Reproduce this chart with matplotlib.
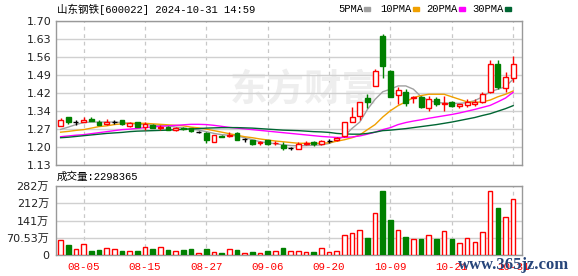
import matplotlib
matplotlib.use("Agg")
import matplotlib.pyplot as plt
from matplotlib.patches import Rectangle
import numpy as np

# ---- data ----
title = "山东钢铁[600022] 2024-10-31 14:59"
dates = ["07-31", "08-01", "08-02", "08-05", "08-06", "08-07", "08-08", "08-09",
         "08-12", "08-13", "08-14", "08-15", "08-16", "08-19", "08-20", "08-21",
         "08-22", "08-23", "08-26", "08-27", "08-28", "08-29", "08-30", "09-02",
         "09-03", "09-04", "09-05", "09-06", "09-09", "09-10", "09-11", "09-12",
         "09-13", "09-18", "09-19", "09-20", "09-23", "09-24", "09-25", "09-26",
         "09-27", "09-30", "10-08", "10-09", "10-10", "10-11", "10-14", "10-15",
         "10-16", "10-17", "10-18", "10-21", "10-22", "10-23", "10-24", "10-25",
         "10-28", "10-29", "10-30", "10-31"]

opens = [1.284, 1.319, 1.299, 1.301, 1.312, 1.299, 1.291, 1.301, 1.308, 1.286,
         1.299, 1.282, 1.288, 1.278, 1.279, 1.270, 1.278, 1.276, 1.260, 1.258,
         1.222, 1.246, 1.245, 1.258, 1.232, 1.230, 1.217, 1.229, 1.216, 1.209,
         1.198, 1.193, 1.215, 1.222, 1.215, 1.225, 1.229, 1.245, 1.301, 1.323,
         1.394, 1.441, 1.640, 1.502, 1.408, 1.418, 1.394, 1.400, 1.355, 1.390,
         1.372, 1.378, 1.362, 1.368, 1.370, 1.378, 1.420, 1.529, 1.434, 1.473]
highs = [1.317, 1.320, 1.308, 1.319, 1.321, 1.310, 1.312, 1.310, 1.310, 1.300,
         1.300, 1.300, 1.292, 1.290, 1.284, 1.280, 1.280, 1.278, 1.265, 1.262,
         1.250, 1.248, 1.262, 1.260, 1.236, 1.230, 1.225, 1.230, 1.225, 1.220,
         1.200, 1.222, 1.225, 1.224, 1.230, 1.232, 1.240, 1.300, 1.358, 1.380,
         1.410, 1.510, 1.650, 1.505, 1.440, 1.430, 1.405, 1.405, 1.405, 1.400,
         1.405, 1.385, 1.372, 1.390, 1.390, 1.420, 1.545, 1.545, 1.500, 1.560]
lows = [1.284, 1.291, 1.290, 1.300, 1.303, 1.288, 1.290, 1.292, 1.290, 1.280,
        1.280, 1.270, 1.275, 1.270, 1.268, 1.266, 1.270, 1.262, 1.255, 1.218,
        1.220, 1.240, 1.240, 1.228, 1.222, 1.210, 1.210, 1.210, 1.208, 1.188,
        1.188, 1.193, 1.210, 1.205, 1.210, 1.218, 1.225, 1.240, 1.300, 1.310,
        1.357, 1.441, 1.473, 1.398, 1.371, 1.365, 1.375, 1.355, 1.345, 1.365,
        1.345, 1.358, 1.355, 1.360, 1.365, 1.375, 1.415, 1.430, 1.420, 1.460]
closes = [1.308, 1.301, 1.299, 1.308, 1.305, 1.288, 1.301, 1.301, 1.292, 1.295,
          1.282, 1.291, 1.278, 1.281, 1.270, 1.275, 1.272, 1.265, 1.260, 1.228,
          1.249, 1.242, 1.250, 1.230, 1.232, 1.212, 1.220, 1.212, 1.219, 1.198,
          1.198, 1.212, 1.219, 1.212, 1.225, 1.225, 1.237, 1.300, 1.319, 1.378,
          1.380, 1.502, 1.522, 1.400, 1.425, 1.375, 1.400, 1.360, 1.390, 1.370,
          1.375, 1.362, 1.370, 1.378, 1.380, 1.410, 1.529, 1.440, 1.477, 1.529]

ma5 = [1.271, 1.280, 1.290, 1.298, 1.300, 1.300, 1.300, 1.300, 1.298, 1.295,
       1.292, 1.290, 1.288, 1.287, 1.285, 1.280, 1.276, 1.272, 1.268, 1.262,
       1.255, 1.250, 1.248, 1.245, 1.238, 1.230, 1.222, 1.218, 1.214, 1.210,
       1.207, 1.206, 1.207, 1.208, 1.210, 1.215, 1.228, 1.245, 1.275, 1.300,
       1.350, 1.390, 1.420, 1.430, 1.443, 1.443, 1.430, 1.400, 1.385, 1.378,
       1.375, 1.374, 1.374, 1.377, 1.385, 1.400, 1.420, 1.430, 1.440, 1.470]
ma10 = [1.260, 1.263, 1.267, 1.270, 1.276, 1.282, 1.285, 1.290, 1.293, 1.295,
        1.295, 1.295, 1.293, 1.291, 1.289, 1.287, 1.285, 1.280, 1.277, 1.272,
        1.266, 1.260, 1.254, 1.248, 1.242, 1.238, 1.233, 1.229, 1.225, 1.222,
        1.219, 1.216, 1.216, 1.216, 1.216, 1.218, 1.224, 1.230, 1.238, 1.249,
        1.270, 1.290, 1.320, 1.345, 1.365, 1.380, 1.397, 1.405, 1.410, 1.410,
        1.410, 1.400, 1.390, 1.380, 1.378, 1.380, 1.387, 1.400, 1.410, 1.423]
ma20 = [1.242, 1.245, 1.248, 1.250, 1.254, 1.258, 1.262, 1.266, 1.270, 1.272,
        1.275, 1.278, 1.281, 1.283, 1.285, 1.287, 1.289, 1.291, 1.291, 1.290,
        1.287, 1.283, 1.279, 1.276, 1.273, 1.270, 1.267, 1.264, 1.261, 1.258,
        1.255, 1.252, 1.249, 1.246, 1.243, 1.241, 1.239, 1.239, 1.241, 1.245,
        1.252, 1.260, 1.270, 1.278, 1.290, 1.298, 1.304, 1.309, 1.315, 1.320,
        1.325, 1.330, 1.336, 1.343, 1.350, 1.358, 1.366, 1.380, 1.395, 1.418]
ma30 = [1.238, 1.240, 1.243, 1.246, 1.249, 1.252, 1.255, 1.257, 1.259, 1.262,
        1.264, 1.265, 1.266, 1.267, 1.268, 1.270, 1.271, 1.273, 1.274, 1.276,
        1.277, 1.278, 1.278, 1.278, 1.277, 1.276, 1.274, 1.272, 1.270, 1.268,
        1.267, 1.266, 1.264, 1.262, 1.261, 1.259, 1.255, 1.253, 1.252, 1.252,
        1.255, 1.260, 1.266, 1.268, 1.271, 1.274, 1.278, 1.282, 1.286, 1.290,
        1.295, 1.300, 1.306, 1.312, 1.318, 1.326, 1.333, 1.343, 1.353, 1.365]

# volume in 万 (10k shares)
volumes = [61.0, 41.0, 24.5, 45.0, 17.7, 20.4, 27.0, 24.5, 17.7, 16.4,
           17.7, 31.3, 24.5, 31.3, 20.4, 16.4, 20.4, 24.5, 9.5, 24.5,
           12.3, 9.5, 23.0, 20.4, 9.5, 12.3, 9.5, 17.7, 16.4, 30.0,
           16.4, 16.4, 12.3, 13.6, 27.0, 12.3, 16.4, 81.8, 91.0, 102.0,
           68.0, 170.5, 261.7, 143.0, 102.0, 75.0, 65.4, 65.4, 81.8, 65.4,
           98.0, 65.4, 47.7, 68.0, 54.5, 95.4, 261.7, 193.5, 154.0, 229.84]
last_volume = "2298365"

price_ticks = [1.13, 1.20125, 1.2725, 1.34375, 1.415, 1.48625, 1.5575, 1.62875, 1.70]
price_labels = ["1.13", "1.20", "1.27", "1.34", "1.42", "1.49", "1.56", "1.63", "1.70"]
vol_ticks = [0, 70.53, 141.06, 211.59, 282.12]
vol_labels = ["0", "70.53万", "141万", "212万", "282万"]

ma_names = ["5PMA", "10PMA", "20PMA", "30PMA"]
ma_colors = ["#a0a0a0", "#f0a000", "#ff00ff", "#006633"]

RED = "#ff0000"
GREEN = "#008000"
W, H = 578, 276
MONO = ["Liberation Mono", "Noto Sans CJK SC"]
SANS = ["DejaVu Sans", "Noto Sans CJK SC"]


def fx(x):
    return x / W


def fy(y):
    return 1 - y / H


fig = plt.figure(figsize=(W / 100, H / 100), dpi=100)
ax = fig.add_axes([fx(56), fy(165), (522 - 56) / W, (165 - 21) / H])
vax = fig.add_axes([fx(56), fy(255), (522 - 56) / W, (255 - 186) / H])

n = len(closes)
x = np.arange(n)
grid_idx = list(range(3, n, 8))

for a in (ax, vax):
    a.set_xlim(-0.6, 60.15)
    for s in a.spines.values():
        s.set_color("#999999")
        s.set_linewidth(1)
    a.tick_params(length=0)
    a.grid(axis="y", color="#d0d0d0", lw=1, zorder=0)
    for g in grid_idx:
        a.axvline(g, color="#c8c8c8", lw=0.9, ls=(0, (3, 3)), zorder=0)
    a.set_axisbelow(True)

# watermark logo text
ax.text(fx(305), fy(90), "东方财富", transform=fig.transFigure, ha="center", va="center",
        fontsize=27, fontweight="bold", color="#eeeeee", family="Noto Sans CJK SC", zorder=0.5)

# moving averages
for vals, col in zip([ma5, ma10, ma20, ma30], ma_colors):
    ax.plot(x, vals, color=col, lw=1, zorder=2)

# candles
for i in range(n):
    o, h, l, c = opens[i], highs[i], lows[i], closes[i]
    if c > o:
        col, face = RED, "white"
    elif c < o:
        col, face = GREEN, GREEN
    else:
        col, face = "black", "black"
    ax.vlines(i, l, h, color=col, lw=1, zorder=3)
    if o == c:
        ax.hlines(o, i - 0.32, i + 0.32, color=col, lw=1, zorder=4)
    else:
        ax.add_patch(Rectangle((i - 0.32, min(o, c)), 0.64, abs(c - o),
                               facecolor=face, edgecolor=col, lw=1, zorder=4))

ax.set_ylim(1.13, 1.70)
ax.set_yticks(price_ticks)
ax.set_yticklabels(price_labels, fontsize=8, color="#222222", family=SANS)
ax.set_xticks([])
ax.tick_params(axis="y", pad=3)

# volume bars
up = [c >= o for o, c in zip(opens, closes)]
faces = ["white" if u else GREEN for u in up]
edges = [RED if u else GREEN for u in up]
vax.bar(x, volumes, width=0.6, color=faces, edgecolor=edges, lw=1, zorder=3)
vax.set_ylim(0, 282.12)
vax.set_yticks(vol_ticks)
vax.set_yticklabels(vol_labels, fontsize=8, color="#222222", family=SANS)
vax.tick_params(axis="y", pad=5)
vax.set_xticks(grid_idx)
vax.set_xticklabels([dates[i] for i in grid_idx], fontsize=7.8, color=RED, family=MONO)
vax.tick_params(axis="x", pad=5)

# header texts
fig.text(fx(57), fy(9), title, fontsize=7.6, family=MONO, va="center", ha="left")
fig.text(fx(57), fy(177), "成交量:" + last_volume, fontsize=7.6, family=MONO,
         va="center", ha="left")

# legend
leg_x = [338, 380, 426, 472]
for name, col, lx in zip(ma_names, ma_colors, leg_x):
    fig.text(fx(lx), fy(9), name, fontsize=7.6, family=MONO, va="center", ha="left")
    sw = len(name) * 6.1 + 2
    fig.patches.append(Rectangle((fx(lx + sw), fy(10.5)), 6 / W, 3 / H,
                                 transform=fig.transFigure, color=col, figure=fig))

# site watermark (sits over the last date labels, as in the source)
fig.text(fx(514), fy(265), "www.365jz.com", fontsize=12, fontweight="bold",
         family="Liberation Serif", color="#27457a", ha="center", va="center")

fig.savefig("out.png", dpi=100)
